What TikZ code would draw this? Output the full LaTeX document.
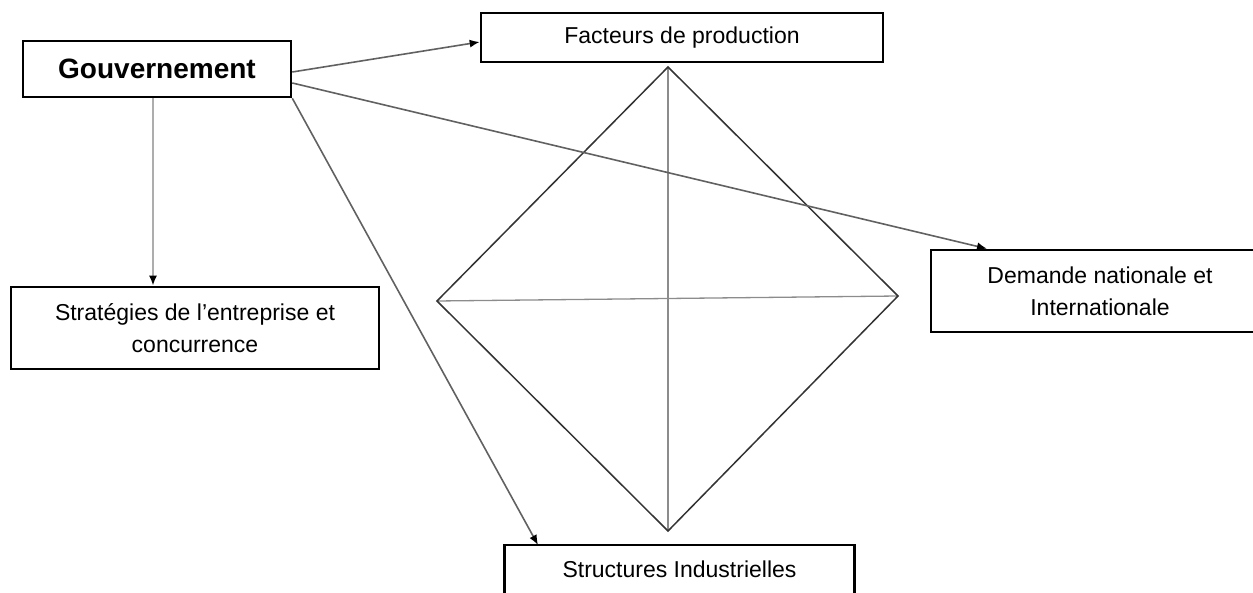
\documentclass[tikz,border=0pt]{standalone}
\usepackage{fontspec}
\setmainfont{Liberation Sans}
\usetikzlibrary{arrows.meta}
\begin{document}
\begin{tikzpicture}[x=1pt,y=-1pt,
  box/.style={draw=black, line width=2.6pt, fill=white, inner sep=0pt, align=center,
              font=\fontsize{23}{32}\selectfont},
  conn/.style={draw=black!62, line width=1.6pt, -{Latex[length=10pt,width=8pt,black]}},
  vconn/.style={draw=black!32, line width=2pt, -{Latex[length=10pt,width=8pt,black]}},
  dline/.style={draw=black!80, line width=1.5pt, line join=miter},
  xline/.style={draw=black!45, line width=1.3pt}
]
\useasboundingbox (0,0) rectangle (1253,593);
\clip (0,0) rectangle (1253,593);

% diamond
\coordinate (dtop) at (668,67);
\coordinate (dright) at (898,296);
\coordinate (dbottom) at (668,531);
\coordinate (dleft) at (437,301);
\draw[xline] (dleft) -- (dright);
\draw[xline] (dtop) -- (dbottom);
\draw[dline] (dtop) -- (dright) -- (dbottom) -- (dleft) -- cycle;

% boxes
\node[box, minimum width=268pt, minimum height=56pt, font=\fontsize{28}{32}\selectfont\bfseries]
  (gouv) at (157,69) {Gouvernement};
\node[box, minimum width=402pt, minimum height=49pt] (fact) at (682,37.5) {Facteurs de production};
\node[box, minimum width=368pt, minimum height=82pt] (strat) at (195,328)
  {Stratégies de l'entreprise et\\concurrence};
\node[box, minimum width=338pt, minimum height=82pt] (dem) at (1100,291)
  {Demande nationale et\\Internationale};
\node[box, draw=none, minimum width=347pt, minimum height=46pt, anchor=north] (struct) at (679.5,545)
  {Structures Industrielles};
\draw[draw=black, line width=2.6pt] ([yshift=-30pt]struct.south west) -- (struct.north west)
  -- (struct.north east) -- ([yshift=-30pt]struct.south east);

% connectors
\draw[conn] ([yshift=-3pt]gouv.east) -- ([yshift=-4.5pt]fact.west);
\draw[conn] ([yshift=-14pt]gouv.east) -- ([xshift=-113pt]dem.north);
\draw[conn] (gouv.south east) -- ([xshift=-141.5pt]struct.north);
\draw[vconn] ([xshift=-4pt]gouv.south) -- ([xshift=-4pt]gouv.south |- strat.north);
\end{tikzpicture}
\end{document}
